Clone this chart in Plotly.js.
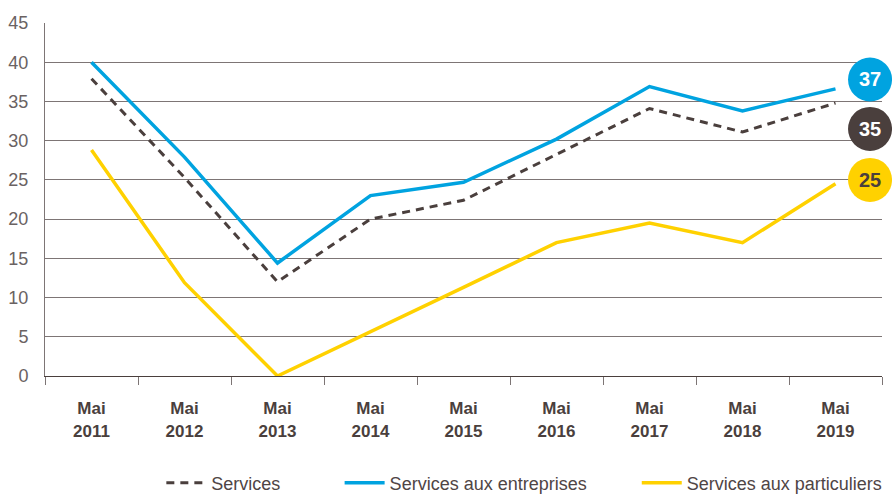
<!DOCTYPE html>
<html>
<head>
<meta charset="utf-8">
<script src="https://cdn.plot.ly/plotly-3.0.1.min.js"></script>
<style>
html,body{margin:0;padding:0;background:#fff;}
#chart{width:892px;height:496px;}
</style>
</head>
<body>
<div id="chart"></div>
<script>
// ---- data ----
const categories = ['Mai<br>2011','Mai<br>2012','Mai<br>2013','Mai<br>2014','Mai<br>2015','Mai<br>2016','Mai<br>2017','Mai<br>2018','Mai<br>2019'];
const services = [37.9, 25.3, 12.0, 20.0, 22.4, 28.2, 34.1, 31.1, 34.8];
const servicesEntreprises = [40.0, 27.9, 14.4, 23.0, 24.7, 30.2, 36.9, 33.8, 36.6];
const servicesParticuliers = [28.8, 11.9, 0.0, 5.6, 11.3, 17.0, 19.5, 17.0, 24.5];
const seriesNames = ['Services', 'Services aux entreprises', 'Services aux particuliers'];
const badgeLabels = ['37', '35', '25'];
const yTicks = [0, 5, 10, 15, 20, 25, 30, 35, 40, 45];

// ---- styles ----
const cDark = '#4a3f3d';
const cBlue = '#00a3e0';
const cYellow = '#ffd100';
const cGrid = '#7d7575';
const cLabel = '#6a6262';

const traces = [
  {x: categories, y: servicesParticuliers, name: seriesNames[2], type: 'scatter', mode: 'lines',
   line: {color: cYellow, width: 3.5}, legend: 'legend3'},
  {x: categories, y: services, name: seriesNames[0], type: 'scatter', mode: 'lines',
   line: {color: cDark, width: 3, dash: '8px,6px'}, legend: 'legend'},
  {x: categories, y: servicesEntreprises, name: seriesNames[1], type: 'scatter', mode: 'lines',
   line: {color: cBlue, width: 3.5}, legend: 'legend2'}
];

const badgeX = 0.9857;
const badgeY = [37.8, 31.5, 25.0];
const badgeFill = [cBlue, cDark, cYellow];
const badgeText = ['#ffffff', '#ffffff', cDark];

const shapes = badgeLabels.map((t, i) => ({
  type: 'circle', layer: 'above',
  xref: 'paper', yref: 'y',
  xsizemode: 'pixel', ysizemode: 'pixel',
  xanchor: badgeX, yanchor: badgeY[i],
  x0: -22, x1: 22, y0: -22, y1: 22,
  fillcolor: badgeFill[i], line: {width: 0}
}));
const annotations = badgeLabels.map((t, i) => ({
  xref: 'paper', yref: 'y', x: badgeX, y: badgeY[i],
  text: '<b>' + t + '</b>', showarrow: false,
  font: {family: 'Liberation Sans, Arial, sans-serif', size: 20, color: badgeText[i]},
  xanchor: 'center', yanchor: 'middle'
}));

const legendFont = {family: 'Liberation Sans, Arial, sans-serif', size: 18, color: '#4f4545'};
const legendBase = {orientation: 'h', yref: 'container', yanchor: 'middle', y: 0.026, xanchor: 'left',
  font: legendFont, bgcolor: 'rgba(0,0,0,0)', itemwidth: 40, borderwidth: 0};

const layout = {
  width: 892, height: 496,
  margin: {l: 45, r: 10, t: 23, b: 120},
  paper_bgcolor: '#ffffff', plot_bgcolor: '#ffffff',
  showlegend: true,
  font: {family: 'Liberation Sans, Arial, sans-serif', color: cDark},
  xaxis: {
    type: 'category', range: [-0.5, 8.5], automargin: false,
    tickson: 'boundaries', ticks: 'outside', ticklen: 8, tickcolor: cGrid, tickwidth: 1,
    showline: true, linecolor: cDark, linewidth: 1,
    showgrid: false, zeroline: false,
    tickfont: {family: 'Liberation Sans, Arial, sans-serif', size: 17, color: cDark, weight: 'bold'},
    ticklabelstandoff: 17
  },
  yaxis: {
    range: [0, 45], tickmode: 'array', tickvals: yTicks, ticktext: yTicks.map(String),
    showgrid: true, gridcolor: cGrid, gridwidth: 1, automargin: false,
    zeroline: false, showline: true, linecolor: cGrid, linewidth: 1,
    ticks: '', ticklabelstandoff: 12,
    tickfont: {family: 'Liberation Sans, Arial, sans-serif', size: 18, color: cLabel}
  },
  legend: Object.assign({}, legendBase, {x: 0.139}),
  legend2: Object.assign({}, legendBase, {x: 0.352}),
  legend3: Object.assign({}, legendBase, {x: 0.707}),
  shapes: shapes,
  annotations: annotations
};

Plotly.newPlot('chart', traces, layout, {displayModeBar: false, responsive: false});
</script>
</body>
</html>
